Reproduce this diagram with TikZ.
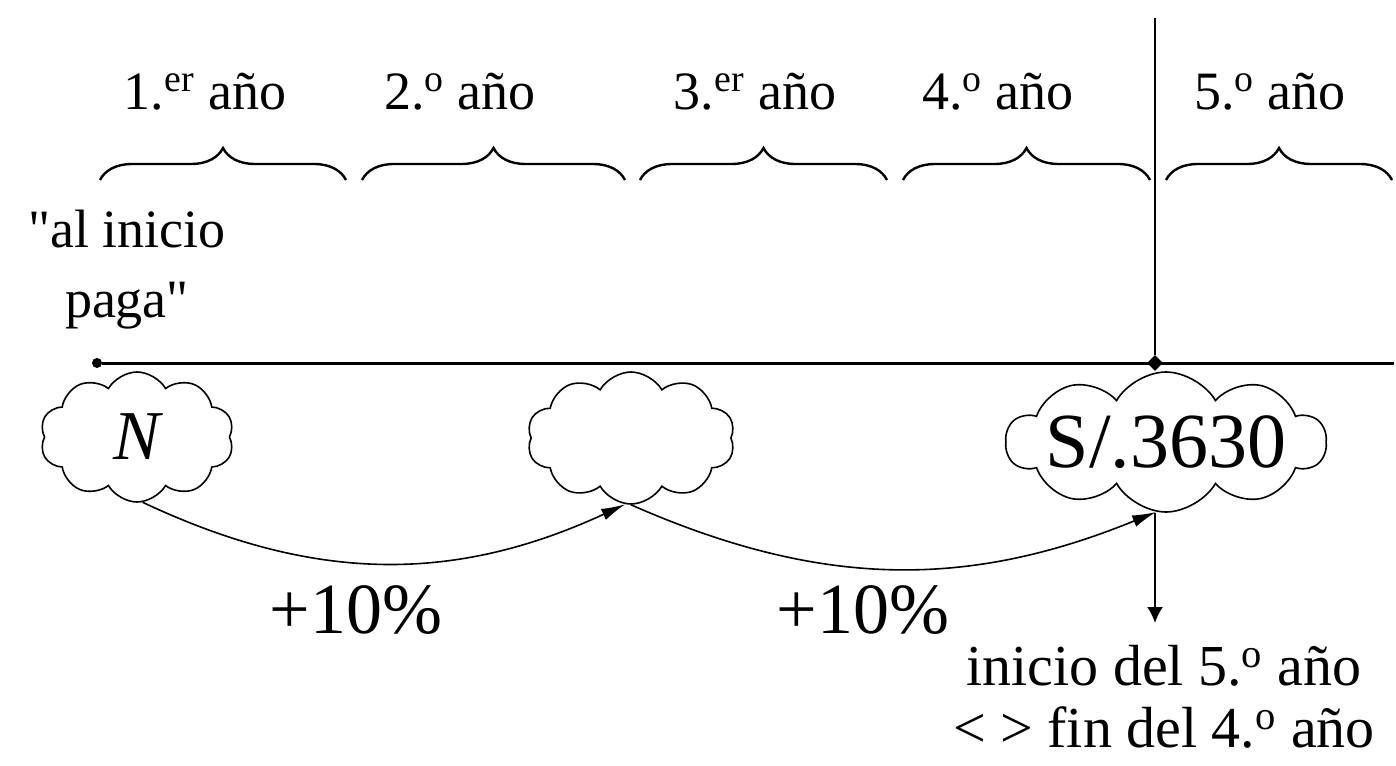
\documentclass[tikz,border=0pt]{standalone}
\usepackage{fontspec}
\setmainfont{Liberation Serif}
\newfontfamily\plainquote{Liberation Serif}
\usepackage{tikz}
\usetikzlibrary{arrows.meta,positioning,shapes.geometric,shapes.symbols,decorations.pathreplacing}
\newcommand{\ord}[1]{\textsuperscript{#1}}

\begin{document}
\begin{tikzpicture}[x=0.5pt,y=-0.5pt,
  yearlab/.style={anchor=base,font=\fontsize{27}{32}\selectfont},
  yearbrace/.style={decorate,decoration={brace,amplitude=16pt},line width=1.2pt},
  cloudbox/.style={draw,cloud,cloud puffs=10,cloud puff arc=120,cloud ignores aspect,line width=0.8pt,inner sep=0pt},
  link/.style={-{Latex[length=12pt,width=6pt]},line width=0.8pt},
  pct/.style={anchor=base,font=\fontsize{36}{40}\selectfont},
  dot/.style={circle,fill,inner sep=0pt,minimum size=5pt},
  joint/.style={diamond,fill,inner sep=0pt,minimum size=8pt}]
  \useasboundingbox (0,0) rectangle (1396,765);
  % years
  \node[yearlab] (y1) at (205,110) {1.\ord{er} año};
  \node[yearlab] (y2) at (460,110) {2.\ord{o} año};
  \node[yearlab] (y3) at (755,110) {3.\ord{er} año};
  \node[yearlab] (y4) at (998,110) {4.\ord{o} año};
  \node[yearlab] (y5) at (1270,110) {5.\ord{o} año};
  \draw[yearbrace] (100,180) -- (346,180);
  \draw[yearbrace] (362,180) -- (625,180);
  \draw[yearbrace] (640,180) -- (887,180);
  \draw[yearbrace] (903,180) -- (1150,180);
  \draw[yearbrace] (1166,180) -- (1392,180);
  \node[align=center,font=\fontsize{27}{35}\selectfont\plainquote] (pay) at (127,270) {"al inicio\\paga"};
  % time line
  \node[dot] (t0) at (97,363) {};
  \node[joint] (t5) at (1155,363) {};
  \coordinate (tend) at (1394,363);
  \coordinate (vtop) at (1155,18);
  \draw[line width=1.5pt] (t0) -- (tend);
  \draw[line width=1pt] (vtop) -- (t5);
  % clouds
  \node[cloudbox,minimum width=97pt,minimum height=65pt,font=\fontsize{35}{40}\selectfont\itshape] (c1) at (137,437) {N};
  \node[cloudbox,minimum width=104pt,minimum height=66pt] (c2) at (631,438) {};
  \node[cloudbox,minimum width=160pt,minimum height=70pt] (c3) at (1166,442) {};
  \node[font=\fontsize{39}{44}\selectfont] (amount) at (c3) {S/.3630};
  \draw[link] (c1.275) to[bend right=25] (c2.265);
  \draw[link] (c2.270) to[bend right=23] (c3.262);
  \node[pct] (p1) at (356,633) {+10\%};
  \node[pct] (p2) at (863,633) {+10\%};
  \node[align=center,inner sep=0pt,anchor=north,font=\fontsize{29}{31}\selectfont] (note) at (1164,645) {inicio del 5.\ord{o} año\\< > fin del 4.\ord{o} año};
  \draw[-{Latex[length=8pt,width=8pt]},line width=1pt,shorten >=11pt] (c3.south -| t5) -- (note.north -| t5);
\end{tikzpicture}
\end{document}
